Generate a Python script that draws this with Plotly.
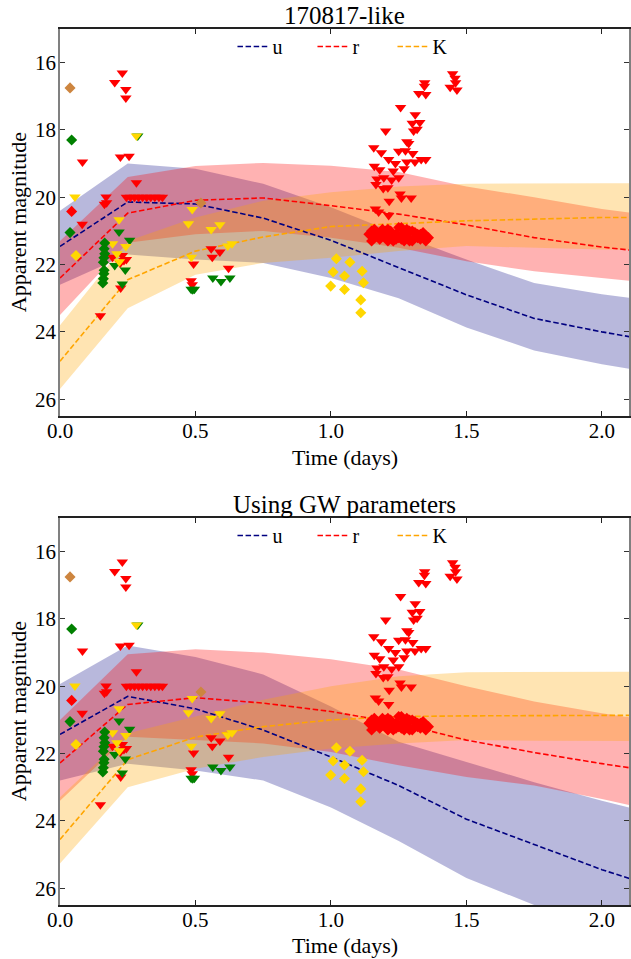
import plotly.graph_objects as go

# ---------------- data ----------------
T = [0, 0.25, 0.5, 0.75, 1.0, 1.25, 1.5, 1.75, 2.0, 2.25]

# Panel 1: 170817-like  (mid = median, hi = bright edge, lo = faint edge)
u1_mid = [21.46, 20.14, 20.2, 20.62, 21.28, 22.09, 22.9, 23.6, 24.0, 24.35]
u1_hi = [20.4, 19.0, 19.15, 19.6, 20.3, 21.1, 21.85, 22.55, 22.88, 23.15]
u1_lo = [22.6, 21.7, 21.85, 21.95, 22.4, 23.0, 23.87, 24.55, 24.96, 25.3]
r1_mid = [22.4, 20.47, 20.09, 20.02, 20.25, 20.5, 20.82, 21.2, 21.48, 21.7]
r1_hi = [21.3, 19.4, 19.07, 18.98, 19.06, 19.25, 19.68, 20.0, 20.35, 20.6]
r1_lo = [23.5, 21.35, 21.1, 21.0, 21.2, 21.5, 21.9, 22.2, 22.4, 22.6]
K1_mid = [24.87, 22.45, 21.6, 21.18, 20.87, 20.78, 20.7, 20.65, 20.6, 20.6]
K1_hi = [23.8, 21.3, 20.6, 20.1, 19.85, 19.68, 19.6, 19.58, 19.58, 19.58]
K1_lo = [25.7, 23.3, 22.3, 21.95, 21.8, 21.6, 21.45, 21.5, 21.55, 21.57]

# Panel 2: Using GW parameters
u2_mid = [21.43, 20.3, 20.67, 21.3, 22.1, 22.95, 23.95, 24.7, 25.45, 26.1]
u2_hi = [19.93, 18.79, 19.13, 19.65, 20.6, 21.65, 22.25, 22.85, 23.4, 23.9]
u2_lo = [22.8, 22.3, 22.5, 22.8, 23.6, 24.6, 25.7, 26.5, 27.0, 27.4]
r2_mid = [22.28, 20.54, 20.34, 20.5, 20.75, 21.1, 21.6, 21.97, 22.3, 22.6]
r2_hi = [21.0, 19.05, 18.9, 19.0, 19.2, 19.5, 20.0, 20.45, 20.8, 21.1]
r2_lo = [23.4, 21.5, 21.6, 21.7, 21.95, 22.35, 22.7, 22.95, 23.35, 23.8]
K2_mid = [24.55, 22.18, 21.51, 21.2, 21.0, 20.9, 20.88, 20.87, 20.86, 20.86]
K2_hi = [23.3, 21.4, 20.9, 20.4, 20.0, 19.7, 19.58, 19.57, 19.57, 19.57]
K2_lo = [25.27, 23.0, 22.45, 22.1, 21.85, 21.7, 21.6, 21.62, 21.63, 21.63]

# Observations (shared by both panels)
red_tri_t = [0.083, 0.082, 0.149, 0.202, 0.23, 0.243, 0.243, 0.223, 0.255, 0.282,
             0.17, 0.164, 0.172,
             0.245, 0.26, 0.275, 0.29, 0.305, 0.32, 0.335, 0.35, 0.365, 0.378,
             0.194, 0.23, 0.236, 0.222, 0.245, 0.224,
             0.484, 0.488, 0.493, 0.558, 0.562, 0.59, 0.622,
             1.449, 1.458, 1.46, 1.465, 1.44, 1.346, 1.345, 1.324, 1.35, 1.257,
             1.311, 1.3, 1.328, 1.305, 1.318, 1.202, 1.28, 1.287, 1.158, 1.186,
             1.25, 1.275, 1.302, 1.213, 1.238, 1.28, 1.31, 1.333, 1.35, 1.16,
             1.18, 1.23, 1.27, 1.17, 1.195, 1.224, 1.25, 1.193, 1.21, 1.166,
             1.255, 1.26, 1.296, 1.215, 1.164, 1.176, 1.213]
red_tri_y = [18.95, 20.8, 23.52, 16.59, 16.31, 16.8, 17.05, 18.8, 18.78, 19.57,
             19.99, 20.21, 20.16,
             20.0, 20.0, 20.0, 20.0, 20.0, 20.0, 20.0, 20.0, 20.0, 20.0,
             21.78, 21.73, 21.88, 21.96, 21.85, 22.7,
             22.48, 22.6, 21.98, 21.53, 21.78, 21.63, 22.11,
             16.33, 16.46, 16.6, 16.81, 16.73, 16.6, 16.7, 16.92, 16.95, 17.33,
             17.55, 17.8, 17.78, 18.03, 17.98, 18.03, 18.35, 18.4, 18.53, 18.68,
             18.63, 18.62, 18.7, 18.88, 19.0, 18.95, 18.95, 18.88, 18.88, 19.08,
             19.18, 19.22, 19.15, 19.46, 19.42, 19.49, 19.42, 19.74, 19.72, 19.62,
             19.9, 20.02, 20.02, 20.12, 20.35, 20.44, 20.54]

green_tri_t = [0.218, 0.257, 0.202, 0.241, 0.23, 0.287, 0.484, 0.49, 0.496, 0.564, 0.594, 0.627]
green_tri_y = [21.03, 21.28, 22.03, 22.16, 22.58, 18.18, 22.73, 22.75, 22.73, 22.4, 22.5, 22.4]

gold_tri_t = [0.055, 0.194, 0.218, 0.21, 0.219, 0.243, 0.282, 0.488, 0.474, 0.558, 0.59, 0.485, 0.619, 0.635]
gold_tri_y = [19.99, 21.38, 20.67, 21.68, 21.92, 21.46, 18.18, 20.36, 20.79, 20.96, 20.82, 21.78, 21.45, 21.38]

green_dia_t = [0.043, 0.037, 0.165, 0.163, 0.165, 0.162, 0.16, 0.163, 0.162, 0.16, 0.158]
green_dia_y = [18.3, 21.05, 21.36, 21.53, 21.68, 21.8, 21.93, 22.17, 22.27, 22.42, 22.55]

red_dia_t = [0.043,
             1.14, 1.15, 1.16, 1.17, 1.18, 1.19, 1.2, 1.21, 1.22, 1.23, 1.24, 1.25,
             1.26, 1.27, 1.28, 1.29, 1.3, 1.31, 1.32, 1.33, 1.34, 1.35, 1.36,
             1.15, 1.17, 1.19, 1.21, 1.23, 1.25, 1.27, 1.29, 1.31, 1.33, 1.35,
             1.16, 1.2, 1.24, 1.28, 1.32, 1.22, 1.26, 1.3]
red_dia_y = [20.42,
             21.1, 21.0, 21.2, 21.05, 21.25, 20.95, 21.15, 21.3, 21.0, 21.2, 21.1, 20.9,
             21.25, 21.05, 21.15, 21.3, 21.0, 21.2, 21.1, 21.25, 21.05, 21.15, 21.2,
             21.3, 21.15, 21.1, 20.95, 21.3, 21.2, 21.3, 21.0, 21.05, 21.1, 21.3,
             20.95, 21.0, 21.25, 20.95, 21.2, 21.15, 20.9, 21.3]

gold_dia_t = [0.059, 1.02, 1.07, 1.008, 1.05, 1.115, 0.999, 1.05, 1.12, 1.11, 1.11]
gold_dia_y = [21.73, 21.83, 21.93, 22.22, 22.34, 22.2, 22.64, 22.74, 22.54, 23.05, 23.43]

brown_dia_t = [0.037, 0.52]
brown_dia_y = [16.75, 20.17]

X_TICKS = [0.0, 0.5, 1.0, 1.5, 2.0]
Y_TICKS = [16, 18, 20, 22, 24, 26]

# ---------------- figure ----------------
FONT = "Liberation Serif, Times New Roman, serif"
fig = go.Figure()

bands_colors = {"u": ("navy", "rgba(0,0,128,0.28)"),
                "r": ("red", "rgba(255,0,0,0.30)"),
                "K": ("orange", "rgba(255,165,0,0.30)")}


def add_panel(xa, ya, legend_name, u, r, K):
    for name, (mid, hi, lo) in (("u", u), ("r", r), ("K", K)):
        fig.add_trace(go.Scatter(
            x=T + T[::-1], y=hi + lo[::-1], fill="toself",
            fillcolor=bands_colors[name][1], line=dict(width=0),
            mode="lines", hoverinfo="skip", showlegend=False,
            xaxis=xa, yaxis=ya))
    for name, (mid, hi, lo) in (("u", u), ("r", r), ("K", K)):
        fig.add_trace(go.Scatter(
            x=T, y=mid, mode="lines", name=name,
            line=dict(color=bands_colors[name][0], width=1.6, dash="5.5px,2.6px"),
            showlegend=True, legend=legend_name, xaxis=xa, yaxis=ya))
    marks = [
        (red_tri_t, red_tri_y, "triangle-down", "#FF0000", 10),
        (green_tri_t, green_tri_y, "triangle-down", "#008000", 10),
        (gold_tri_t, gold_tri_y, "triangle-down", "#FFD700", 10),
        (green_dia_t, green_dia_y, "diamond", "#008000", 8.5),
        (red_dia_t, red_dia_y, "diamond", "#FF0000", 8.5),
        (gold_dia_t, gold_dia_y, "diamond", "#FFD700", 8.5),
        (brown_dia_t, brown_dia_y, "diamond", "#CD853F", 8.5),
    ]
    for xs, ys, sym, col, sz in marks:
        fig.add_trace(go.Scatter(
            x=xs, y=ys, mode="markers",
            marker=dict(symbol=sym, color=col, size=sz, line=dict(width=0)),
            showlegend=False, xaxis=xa, yaxis=ya))


add_panel("x", "y", "legend", (u1_mid, u1_hi, u1_lo), (r1_mid, r1_hi, r1_lo), (K1_mid, K1_hi, K1_lo))
add_panel("x2", "y2", "legend2", (u2_mid, u2_hi, u2_lo), (r2_mid, r2_hi, r2_lo), (K2_mid, K2_hi, K2_lo))

W, H = 631, 959
ML, MR, MT, MB = 60, 0, 29, 54
PH = H - MT - MB


def py2paper(py):
    return (H - MB - py) / PH


def px2paper(px):
    return (px - ML) / (W - ML - MR)


top_dom = [py2paper(416), 1.0]
bot_dom = [0.0, py2paper(518)]

xax = dict(range=[0, 2.1], tickvals=X_TICKS, ticktext=["%.1f" % v for v in X_TICKS],
           ticks="inside", ticklen=5, tickcolor="#222", showline=True, linecolor="#222",
           linewidth=1.5, mirror="ticks", showgrid=False, zeroline=False,
           ticklabelstandoff=-5,
           tickfont=dict(family=FONT, size=21, color="black"))
yax = dict(range=[26.5, 15.0], tickvals=Y_TICKS, ticks="inside", ticklen=5, tickcolor="#333",
           showline=True, linecolor="#808080", linewidth=1.5, mirror="ticks",
           showgrid=False, zeroline=False, ticklabelstandoff=-2,
           tickfont=dict(family=FONT, size=21, color="black"))

legend_common = dict(orientation="h", xanchor="center", x=0.514, yanchor="top",
                     bgcolor="rgba(0,0,0,0)", font=dict(family=FONT, size=20, color="black"),
                     itemwidth=30, tracegroupgap=0, entrywidth=35, entrywidthmode="pixels")

fig.update_layout(
    width=W, height=H,
    margin=dict(l=ML, r=MR, t=MT, b=MB),
    paper_bgcolor="white", plot_bgcolor="white",
    font=dict(family=FONT, color="black"),
    xaxis=dict(xax, domain=[0, 1], anchor="y"),
    yaxis=dict(yax, domain=top_dom, anchor="x"),
    xaxis2=dict(xax, domain=[0, 1], anchor="y2"),
    yaxis2=dict(yax, domain=bot_dom, anchor="x2"),
    legend=dict(legend_common, y=py2paper(27)),
    legend2=dict(legend_common, y=py2paper(516)),
)

ann = []
for txt, py in (("170817-like", 15), ("Using GW parameters", 504)):
    ann.append(dict(text=txt, x=0.5, y=py2paper(py), xref="paper", yref="paper",
                    xanchor="center", yanchor="middle", showarrow=False,
                    font=dict(family=FONT, size=25, color="black")))
for py in (457, 946):
    ann.append(dict(text="Time (days)", x=0.5, y=py2paper(py), xref="paper", yref="paper",
                    xanchor="center", yanchor="middle", showarrow=False,
                    font=dict(family=FONT, size=22, color="black")))
for py in (222, 711):
    ann.append(dict(text="Apparent magnitude", x=px2paper(18), y=py2paper(py), xref="paper",
                    yref="paper", xanchor="center", yanchor="middle", textangle=-90,
                    showarrow=False, font=dict(family=FONT, size=22, color="black")))
fig.update_layout(annotations=ann)

fig.write_html("out.html", config={"displayModeBar": False},
               post_script="document.body.style.margin='0';document.body.style.overflow='hidden';")
